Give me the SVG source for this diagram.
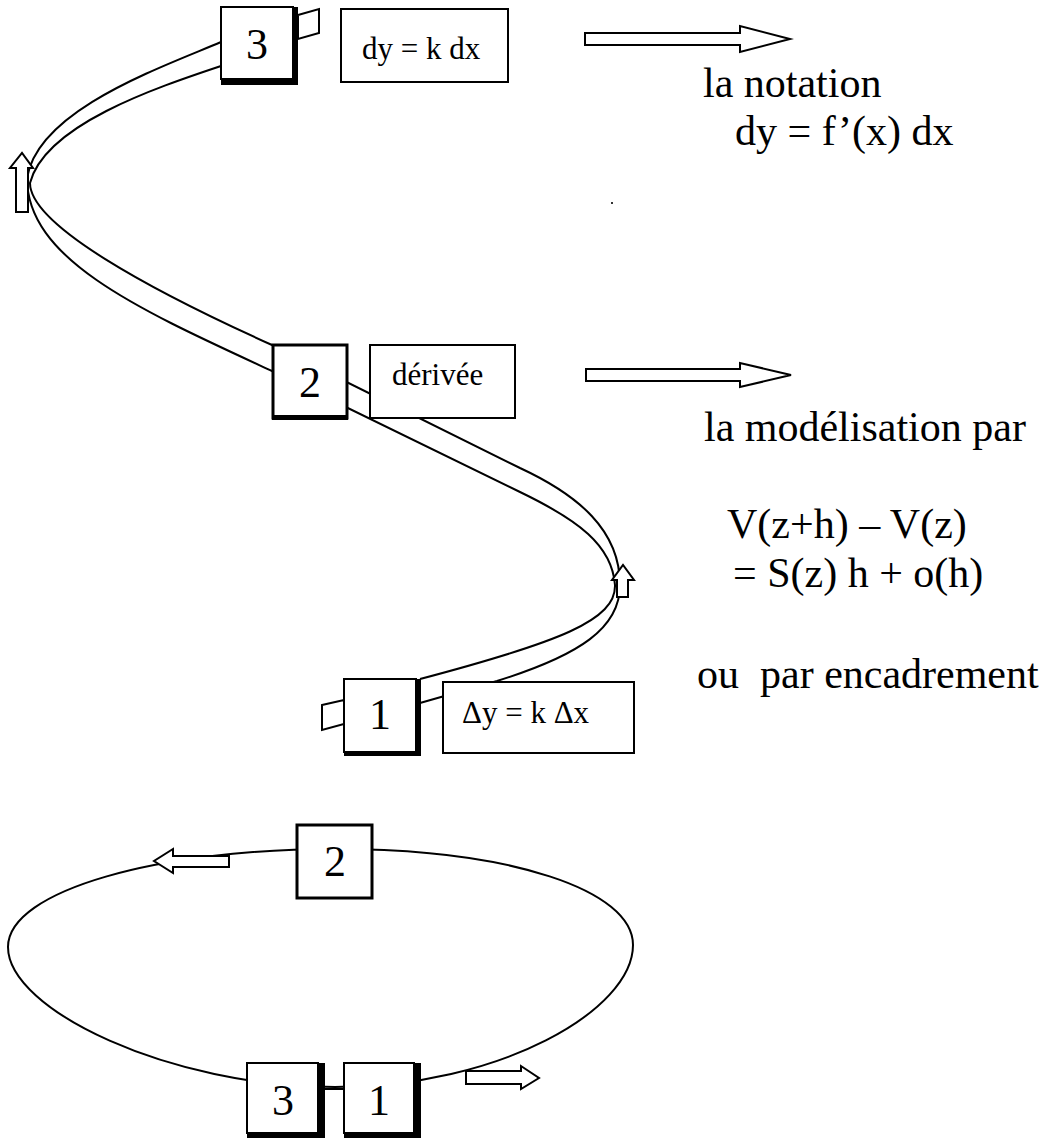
<svg xmlns="http://www.w3.org/2000/svg" width="1061" height="1139" viewBox="0 0 1061 1139">
  <style>
    .line { fill: none; stroke: #000; stroke-width: 2; }
    .box { fill: #fff; stroke: #000; stroke-width: 2; }
    .thick { fill: #000; }
    .arrow { fill: #fff; stroke: #000; stroke-width: 2; stroke-linejoin: miter; }
    .num { font-family: "Liberation Serif", "Times New Roman", serif; font-size: 44px; text-anchor: middle; }
    .lbl { font-family: "Liberation Serif", "Times New Roman", serif; font-size: 31px; }
    .txt { font-family: "Liberation Serif", "Times New Roman", serif; font-size: 42px; white-space: pre; }
  </style>

  <!-- Ribbon: two edge lines of the twisted band, drawn under the boxes -->
  <g id="connectors">
    <!-- edge A: inner on the left turn, outer on the right turn -->
    <path class="line" d="M221,66 C155,88 45,125 30,183 C30,225 150,290 272,345 L520,468 C578,495 620,530 620,585 C620,628 580,655 497,681 L420,703"/>
    <!-- edge B: outer on the left turn, inner on the right turn -->
    <path class="line" d="M221,42 C160,68 38,110 27,178 C27,260 140,310 272,371 L520,492 C578,520 612,545 615,585 C616,620 560,642 420,679"/>
    <!-- ribbon tails -->
    <polygon class="arrow" points="298,15 319,9 319,33 298,39"/>
    <polygon class="arrow" points="322,705 344,700 344,724 322,730"/>
    <!-- direction arrows on the ribbon -->
    <polygon class="arrow" points="16,212 16,168 10,168 22,153 33,168 28,168 28,212"/>
    <polygon class="arrow" points="617,597 617,580 612,580 623,565 634,580 628,580 628,597"/>

    <!-- lower cycle -->
    <path class="line" d="M335,849 C160,849 8,890 8,947 C8,1010 170,1087 335,1087 C500,1087 633,1010 633,945 C633,890 510,849 335,849 Z"/>
    <line class="line" x1="325" y1="1089" x2="344" y2="1089"/>
    <polygon class="arrow" points="229,856 229,867 173,867 173,873 154,861 173,849 173,856"/>
    <polygon class="arrow" points="466,1071 521,1071 521,1066 539,1078 521,1089 521,1084 466,1084"/>

    <!-- outgoing arrows to the remarks -->
    <polygon class="arrow" points="585,33 740,33 740,26 790,39 740,52 740,45 585,45"/>
    <polygon class="arrow" points="586,369 740,369 740,363 791,375 740,387 740,381 586,381"/>
  </g>

  <!-- Step 3 -->
  <g id="node-3">
    <rect class="box" x="221" y="7" width="72" height="72"/>
    <rect class="thick" x="292" y="7" width="6" height="78"/>
    <rect class="thick" x="221" y="79" width="77" height="6"/>
    <text class="num" x="257" y="59">3</text>
  </g>
  <g id="label-3">
    <rect class="box" x="341" y="9" width="167" height="73"/>
    <text class="lbl" x="362" y="59">dy = k dx</text>
  </g>

  <!-- Step 2 -->
  <g id="node-2">
    <rect class="box" x="273" y="345" width="74" height="73" style="stroke-width:3"/>
    <rect class="thick" x="272" y="415" width="76" height="5"/>
    <text class="num" x="310" y="397">2</text>
  </g>
  <g id="label-2">
    <rect class="box" x="370" y="345" width="145" height="73"/>
    <text class="lbl" x="392" y="385">dérivée</text>
  </g>

  <!-- Step 1 -->
  <g id="node-1">
    <rect class="box" x="344" y="679" width="72" height="73"/>
    <rect class="thick" x="415" y="679" width="6" height="77"/>
    <rect class="thick" x="344" y="751" width="77" height="5"/>
    <text class="num" x="380" y="729">1</text>
  </g>
  <g id="label-1">
    <rect class="box" x="443" y="682" width="191" height="71"/>
    <text class="lbl" x="462" y="723">Δy = k Δx</text>
  </g>

  <!-- Cycle boxes -->
  <g id="cycle-2">
    <rect class="box" x="297" y="825" width="75" height="73" style="stroke-width:3"/>
    <text class="num" x="335" y="876">2</text>
  </g>
  <g id="cycle-3">
    <rect class="box" x="247" y="1063" width="71" height="70"/>
    <rect class="thick" x="318" y="1063" width="7" height="75"/>
    <rect class="thick" x="247" y="1132" width="78" height="6"/>
    <text class="num" x="283" y="1115">3</text>
  </g>
  <g id="cycle-1">
    <rect class="box" x="344" y="1063" width="70" height="70"/>
    <rect class="thick" x="414" y="1063" width="7" height="75"/>
    <rect class="thick" x="344" y="1132" width="77" height="6"/>
    <text class="num" x="379" y="1115">1</text>
  </g>

  <!-- Remarks -->
  <g id="remarks">
    <text class="txt" x="703" y="97">la notation</text>
    <text class="txt" x="735" y="145">dy = f’(x) dx</text>
    <text class="txt" x="704" y="441">la modélisation par</text>
    <text class="txt" x="727" y="538">V(z+h) – V(z)</text>
    <text class="txt" x="733" y="587">= S(z) h + o(h)</text>
    <text class="txt" x="697" y="688">ou  par encadrement</text>
    <rect x="611" y="202" width="2" height="2" fill="#333"/>
  </g>
</svg>
